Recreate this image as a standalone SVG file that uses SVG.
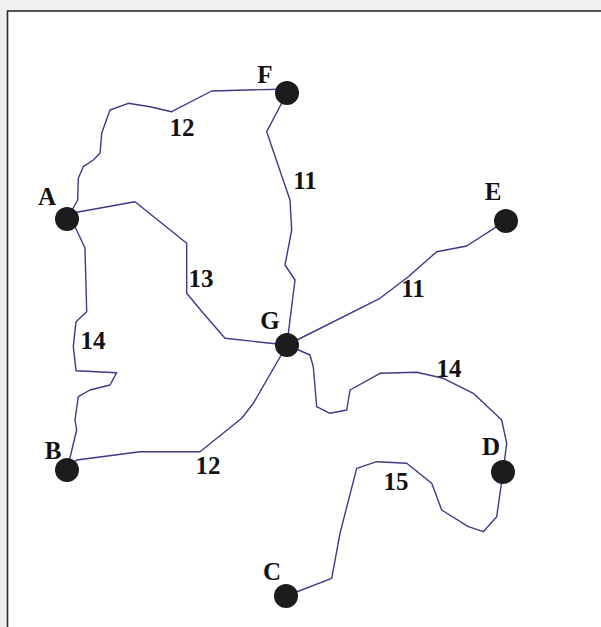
<svg xmlns="http://www.w3.org/2000/svg" width="601" height="627" viewBox="0 0 601 627">
<style>
.edge{fill:none;stroke:#3b3a8a;stroke-width:1.4;stroke-linejoin:round}
.node{fill:#1e1b1f}
text{font-family:"Liberation Serif","Times New Roman",serif;font-weight:bold;font-size:25px;fill:#111;text-anchor:middle}
</style>
<rect x="0" y="0" width="601" height="627" fill="#efefef"/>
<rect x="7.5" y="11" width="600" height="620" fill="#ffffff" stroke="#2a2a2a" stroke-width="1.6"/>
<g id="connectors">
<path class="edge" d="M67,219 L77.7,200 L78.3,178.3 L83.3,166.7 L93.3,160 L100,153.3 L101.7,133.3 L110,110 L128.3,103.3 L150,106.7 L171.7,111.7 L211.7,91 L287,89"/>
<path class="edge" d="M67,214 L135,201.7 L186.7,243.3 L186.7,293.3 L203.3,313.3 L225,338.3 L287,345"/>
<path class="edge" d="M67,219 L75,226.7 L85,248 L86.7,311.7 L76,321.7 L73.3,346.7 L76,370.7 L116.7,372.7 L110,385 L90,390 L78.3,396.7 L75,420 L76.7,430 L67,470"/>
<path class="edge" d="M67,470 L76.7,460 L140,451.7 L200,451.7 L241.7,418.3 L253.3,403.3 L287,345"/>
<path class="edge" d="M287,93 L266.7,131.7 L290,200 L291.7,230 L285,265 L295,280 L288.3,333.3 L287,345"/>
<path class="edge" d="M287,345 L380,298.3 L408.3,276.7 L436.7,251.7 L466.7,246 L496.7,226.7 L506,221"/>
<path class="edge" d="M287,345 L310,355 L313.3,366.7 L316.7,406.7 L330,413.3 L346.7,410 L350,390 L380,373.3 L416.7,372.3 L443.3,378.3 L473.3,393.3 L501.7,420 L506.7,443.3 L503,472"/>
<path class="edge" d="M503,472 L496.7,516.7 L483.3,531.7 L468.3,526.7 L441.7,510 L431.7,483.3 L406.7,463.3 L376.7,461.7 L356.7,468.3 L340,533.3 L331.7,578.3 L286,596"/>
</g>
<g id="label-edges">
<text x="182" y="136">12</text>
<text x="305" y="189">11</text>
<text x="201" y="287">13</text>
<text x="413" y="297">11</text>
<text x="93" y="349">14</text>
<text x="449" y="377">14</text>
<text x="208" y="474">12</text>
<text x="396" y="490">15</text>
</g>
<g id="node-F"><circle class="node" cx="287" cy="93" r="12"/><text x="265" y="83">F</text></g>
<g id="node-A"><circle class="node" cx="67" cy="219" r="12"/><text x="47" y="205">A</text></g>
<g id="node-G"><circle class="node" cx="287" cy="345" r="12"/><text x="270" y="329">G</text></g>
<g id="node-B"><circle class="node" cx="67" cy="470" r="12"/><text x="53" y="459">B</text></g>
<g id="node-E"><circle class="node" cx="506" cy="221" r="12"/><text x="493" y="200">E</text></g>
<g id="node-D"><circle class="node" cx="503" cy="472" r="12"/><text x="491" y="455">D</text></g>
<g id="node-C"><circle class="node" cx="286" cy="596" r="12"/><text x="272" y="580">C</text></g>
</svg>
